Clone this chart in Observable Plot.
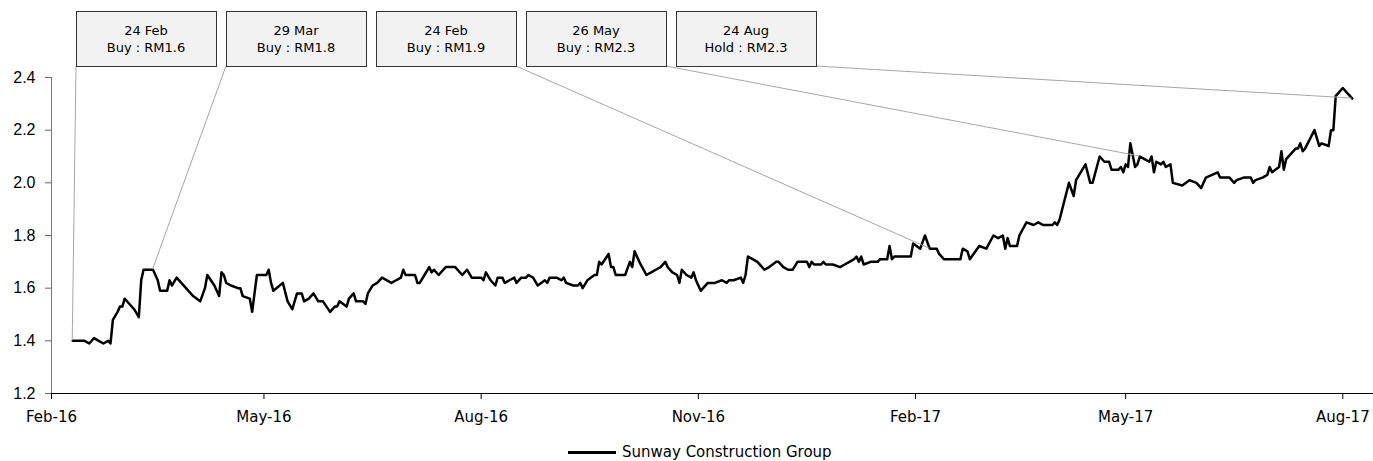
<!DOCTYPE html>
<html><head><meta charset="utf-8">
<script src="https://cdn.jsdelivr.net/npm/d3@7"></script>
<script src="https://cdn.jsdelivr.net/npm/@observablehq/plot@0.6"></script>
<style>
html,body{margin:0;padding:0;background:#fff;}
#wrap{position:relative;width:1373px;height:461px;overflow:hidden;}
#legend{position:absolute;left:568px;top:443px;height:18px;display:flex;align-items:center;font-family:"DejaVu Sans";font-size:15px;color:#000;white-space:nowrap;}
#legend .sw{width:48px;height:0;border-top:3px solid #000;margin-right:6px;}
</style></head><body><div id="wrap"></div>
<script>
// ---- data ----
const seriesName = "Sunway Construction Group";
const dates = [
"2016-02-10","2016-02-15","2016-02-17","2016-02-19","2016-02-21","2016-02-23","2016-02-25","2016-02-26","2016-02-27","2016-02-29",
"2016-03-01","2016-03-02","2016-03-03","2016-03-05","2016-03-07","2016-03-09","2016-03-10","2016-03-11","2016-03-15","2016-03-17",
"2016-03-18","2016-03-21","2016-03-22","2016-03-23","2016-03-25","2016-03-27","2016-04-01","2016-04-04","2016-04-06","2016-04-07",
"2016-04-10","2016-04-12","2016-04-13","2016-04-14","2016-04-15","2016-04-17","2016-04-20","2016-04-21","2016-04-22","2016-04-25",
"2016-04-26","2016-04-28","2016-04-29","2016-05-02","2016-05-03","2016-05-04","2016-05-05","2016-05-09","2016-05-11","2016-05-13",
"2016-05-15","2016-05-17","2016-05-18","2016-05-20","2016-05-22","2016-05-24","2016-05-26","2016-05-29","2016-05-31","2016-06-01",
"2016-06-02","2016-06-05","2016-06-06","2016-06-08","2016-06-09","2016-06-12","2016-06-13","2016-06-14","2016-06-16","2016-06-18",
"2016-06-20","2016-06-24","2016-06-26","2016-06-28","2016-06-29","2016-06-30","2016-07-04","2016-07-05","2016-07-06","2016-07-08",
"2016-07-10","2016-07-11","2016-07-12","2016-07-14","2016-07-17","2016-07-21","2016-07-24","2016-07-26","2016-07-28","2016-08-01",
"2016-08-02","2016-08-03","2016-08-05","2016-08-07","2016-08-08","2016-08-10","2016-08-11","2016-08-13","2016-08-15","2016-08-16",
"2016-08-18","2016-08-20","2016-08-21","2016-08-23","2016-08-25","2016-08-28","2016-08-29","2016-08-30","2016-09-02","2016-09-04",
"2016-09-05","2016-09-06","2016-09-09","2016-09-11","2016-09-12","2016-09-13","2016-09-15","2016-09-18","2016-09-19","2016-09-20",
"2016-09-21","2016-09-24","2016-09-25","2016-09-26","2016-09-27","2016-10-01","2016-10-03","2016-10-04","2016-10-05","2016-10-07",
"2016-10-10","2016-10-12","2016-10-14","2016-10-16","2016-10-18","2016-10-19","2016-10-21","2016-10-23","2016-10-24","2016-10-25",
"2016-10-27","2016-10-29","2016-10-30","2016-10-31","2016-11-02","2016-11-05","2016-11-08","2016-11-11","2016-11-13","2016-11-14",
"2016-11-16","2016-11-19","2016-11-20","2016-11-21","2016-11-22","2016-11-24","2016-11-26","2016-11-29","2016-12-01","2016-12-04",
"2016-12-05","2016-12-07","2016-12-09","2016-12-11","2016-12-13","2016-12-17","2016-12-18","2016-12-19","2016-12-20","2016-12-23",
"2016-12-24","2016-12-25","2016-12-28","2016-12-31","2017-01-02","2017-01-04","2017-01-06","2017-01-07","2017-01-08","2017-01-09",
"2017-01-10","2017-01-13","2017-01-16","2017-01-17","2017-01-20","2017-01-21","2017-01-22","2017-01-23","2017-01-30","2017-01-31",
"2017-02-03","2017-02-05","2017-02-07","2017-02-10","2017-02-11","2017-02-13","2017-02-16","2017-02-18","2017-02-20","2017-02-21",
"2017-02-23","2017-02-24","2017-02-28","2017-03-03","2017-03-06","2017-03-08","2017-03-10","2017-03-11","2017-03-12","2017-03-13",
"2017-03-16","2017-03-17","2017-03-20","2017-03-23","2017-03-25","2017-03-27","2017-03-31","2017-04-01","2017-04-02","2017-04-03",
"2017-04-07","2017-04-09","2017-04-10","2017-04-14","2017-04-16","2017-04-17","2017-04-20","2017-04-22","2017-04-24","2017-04-25",
"2017-04-28","2017-04-29","2017-04-30","2017-05-01","2017-05-02","2017-05-03","2017-05-05","2017-05-06","2017-05-07","2017-05-09",
"2017-05-11","2017-05-12","2017-05-13","2017-05-14","2017-05-16","2017-05-17","2017-05-18","2017-05-20","2017-05-21","2017-05-25",
"2017-05-28","2017-05-31","2017-06-02","2017-06-04","2017-06-09","2017-06-10","2017-06-14","2017-06-16","2017-06-17","2017-06-20",
"2017-06-23","2017-06-24","2017-06-25","2017-06-28","2017-06-30","2017-07-01","2017-07-02","2017-07-05","2017-07-06","2017-07-07",
"2017-07-08","2017-07-12","2017-07-13","2017-07-14","2017-07-15","2017-07-16","2017-07-20","2017-07-22","2017-07-23","2017-07-26",
"2017-07-27","2017-07-28","2017-07-29","2017-07-30","2017-08-01","2017-08-03","2017-08-04","2017-08-05"
];
const prices = [
1.40,1.40,1.39,1.41,1.40,1.39,1.40,1.39,1.48,1.51,
1.53,1.53,1.56,1.54,1.52,1.49,1.63,1.67,1.67,1.63,
1.59,1.59,1.63,1.61,1.64,1.62,1.57,1.55,1.60,1.65,
1.61,1.57,1.66,1.65,1.62,1.61,1.60,1.60,1.57,1.56,
1.51,1.65,1.65,1.65,1.67,1.62,1.59,1.62,1.55,1.52,
1.58,1.58,1.55,1.56,1.58,1.55,1.55,1.51,1.53,1.53,
1.55,1.53,1.56,1.58,1.55,1.55,1.54,1.58,1.61,1.62,
1.64,1.62,1.63,1.64,1.67,1.65,1.65,1.62,1.62,1.65,
1.68,1.66,1.67,1.65,1.68,1.68,1.65,1.67,1.64,1.64,
1.63,1.66,1.63,1.61,1.64,1.64,1.62,1.63,1.64,1.62,
1.64,1.64,1.65,1.64,1.61,1.63,1.62,1.64,1.64,1.63,
1.64,1.62,1.61,1.61,1.62,1.60,1.63,1.65,1.65,1.70,
1.69,1.73,1.68,1.68,1.65,1.65,1.70,1.68,1.74,1.70,
1.65,1.66,1.67,1.68,1.70,1.68,1.66,1.65,1.62,1.67,
1.65,1.64,1.66,1.63,1.59,1.62,1.62,1.63,1.62,1.63,
1.63,1.64,1.62,1.65,1.72,1.71,1.70,1.67,1.68,1.70,
1.70,1.68,1.67,1.67,1.70,1.70,1.68,1.70,1.69,1.69,
1.70,1.69,1.69,1.68,1.69,1.70,1.71,1.72,1.70,1.72,
1.69,1.70,1.70,1.71,1.71,1.76,1.71,1.72,1.72,1.77,
1.75,1.80,1.75,1.75,1.73,1.71,1.71,1.71,1.71,1.75,
1.74,1.71,1.76,1.75,1.80,1.79,1.80,1.75,1.79,1.76,
1.76,1.80,1.85,1.84,1.85,1.84,1.84,1.85,1.84,1.86,
2.00,1.95,2.01,2.07,2.00,2.00,2.10,2.08,2.08,2.05,
2.05,2.06,2.04,2.07,2.06,2.15,2.06,2.07,2.10,2.09,
2.08,2.10,2.04,2.08,2.07,2.08,2.06,2.07,2.00,1.99,
2.01,2.00,1.98,2.02,2.04,2.02,2.02,2.00,2.01,2.02,
2.02,2.00,2.01,2.02,2.03,2.06,2.04,2.06,2.12,2.05,
2.09,2.13,2.13,2.15,2.12,2.13,2.20,2.14,2.15,2.14,
2.20,2.20,2.33,2.34,2.36,2.34,2.33,2.32
];
const xTickDates = ["2016-02-01","2016-05-01","2016-08-01","2016-11-01","2017-02-01","2017-05-01","2017-08-01"];
const yTicks = [1.2,1.4,1.6,1.8,2.0,2.2,2.4];
const xDomain = ["2016-02-01","2017-08-14"];
const yDomain = [1.2,2.4];
// analyst calls
const callDates = ["24 Feb","29 Mar","24 Feb","26 May","24 Aug"];
const callTexts = ["Buy : RM1.6","Buy : RM1.8","Buy : RM1.9","Buy : RM2.3","Hold : RM2.3"];
const callAnchorDates = ["2016-02-10","2016-03-15","2017-02-07","2017-05-07","2017-08-05"];
const callAnchorPrices = [1.40,1.67,1.75,2.10,2.32];

// ---- chart ----
const parse = d3.utcParse("%Y-%m-%d");
const series = dates.map((d,i)=>({date:parse(d), price:prices[i]}));
const x0 = parse(xDomain[0]);

const plot = Plot.plot({
  width:1373, height:430,
  marginLeft:51, marginRight:0, marginTop:77, marginBottom:37,
  style:{fontFamily:"DejaVu Sans", fontSize:"15px", background:"#fff", color:"#000", overflow:"visible"},
  x:{type:"utc", domain:xDomain.map(parse)},
  y:{domain:yDomain},
  marks:[
    Plot.axisY(yTicks,{tickSize:6, tickPadding:10, stroke:"#666", fill:"#000", fontFamily:"Liberation Sans", fontSize:16, tickFormat:d=>d.toFixed(1), label:null}),
    Plot.axisX(xTickDates.map(parse),{tickSize:6, tickPadding:12, stroke:"#000", fill:"#000", tickFormat:d3.utcFormat("%b-%y"), label:null}),
    Plot.ruleX([x0],{stroke:"#777"}),
    Plot.ruleY([yDomain[0]],{stroke:"#000"}),
    Plot.line(series,{x:"date", y:"price", stroke:"#000", strokeWidth:2.5, strokeLinejoin:"round"})
  ]
});

const xs = plot.scale("x"), ys = plot.scale("y");
const svg = d3.select(plot);
const g = svg.append("g");
const boxW = 140, boxH = 55, boxTop = 11, boxStep = 150, boxLeft0 = 76;
callDates.forEach((d,i)=>{
  const left = boxLeft0 + i*boxStep;
  const cx = i < 2 ? left : left + boxW;
  g.append("line")
    .attr("x1", cx).attr("y1", boxTop+boxH)
    .attr("x2", xs.apply(parse(callAnchorDates[i])))
    .attr("y2", ys.apply(callAnchorPrices[i]))
    .attr("stroke","#a6a6a6").attr("stroke-width",1);
  g.append("rect").attr("x",left+0.5).attr("y",boxTop+0.5).attr("width",boxW).attr("height",boxH)
    .attr("fill","#f2f2f2").attr("stroke","#333").attr("stroke-width",1);
  g.append("text").attr("x",left+boxW/2).attr("y",35).attr("text-anchor","middle")
    .attr("font-family","DejaVu Sans").attr("font-size",13).attr("fill","#000").text(d);
  g.append("text").attr("x",left+boxW/2).attr("y",52).attr("text-anchor","middle")
    .attr("font-family","DejaVu Sans").attr("font-size",13).attr("fill","#000").text(callTexts[i]);
});

const wrap = document.getElementById("wrap");
wrap.appendChild(plot);
const legend = document.createElement("div");
legend.id = "legend";
legend.innerHTML = '<span class="sw"></span><span></span>';
legend.lastChild.textContent = seriesName;
wrap.appendChild(legend);
</script>
</body></html>
